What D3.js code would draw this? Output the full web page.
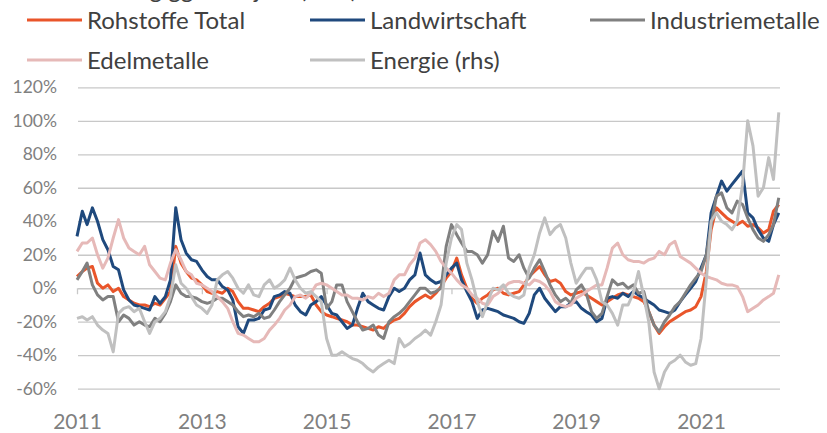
<!DOCTYPE html>
<html>
<head>
<meta charset="utf-8">
<script src="https://cdn.jsdelivr.net/npm/d3@7"></script>
<style>
  body { margin: 0; background: #fff; }
  text { font-family: Lato, "Open Sans", sans-serif; }
</style>
</head>
<body>
<script>
// monthly readings, Jan 2011 .. Apr 2022 (in %)
const months = d3.timeMonth.range(new Date(2011, 0, 1), new Date(2022, 4, 1));

const seriesNames = ['Rohstoffe Total', 'Landwirtschaft', 'Industriemetalle', 'Edelmetalle', 'Energie (rhs)'];
const yTicks = [-60, -40, -20, 0, 20, 40, 60, 80, 100, 120];
const yearTicks = [2011, 2013, 2015, 2017, 2019, 2021];

const rohstoffeTotal = [
  7, 10, 12, 13, 3, 0, 2, -2, 0, -5, -7, -9, -10, -10, -11, -9, -10, -6, -2, 25, 15, 10, 6, 5, 2, -2, -3, -2, -3, 0, -2, -8, -12, -12, -13,
  -14, -11, -9, -6, -5, -3, -4, -5, -5, -5, -4, -10, -14, -16, -17, -18, -19, -20, -22, -22, -23, -24, -25, -23, -24, -21, -19, -18, -15, -11, -8, -6, -4,
  -6, -3, 1, 6, 10, 18, 8, 0, -6, -9, -6, -4, -1, 0, -3, -4, -3, -2, 2, 7, 10, 13, 8, 4, 5, 3, -2, -4, -3, -2, -4, -6, -8, -10,
  -8, -6, -4, -3, -4, -5, -6, -8, -14, -22, -27, -23, -20, -18, -16, -14, -13, -11, -5, 10, 35, 48, 45, 42, 40, 38, 40, 37, 38, 36, 33, 35, 46, 50
];
const landwirtschaft = [
  31, 46, 38, 48, 40, 29, 23, 13, 11, -1, -7, -10, -11, -12, -13, -5, -9, -5, 5, 48, 29, 21, 17, 16, 11, 7, 5, 5, 1, -1, -7, -23, -27, -19, -19,
  -18, -13, -12, -5, -4, -2, -3, -10, -14, -16, -10, -8, -5, -10, -15, -16, -20, -24, -22, -12, -3, -8, -10, -12, -13, -5, 0, -2, 0, 5, 8, 21, 8,
  5, 3, 4, 8, 12, 15, 5, -2, -8, -18, -13, -12, -13, -14, -16, -17, -18, -20, -21, -15, -4, 0, -6, -10, -14, -11, -11, -9, -8, -12, -14, -16, -20, -18,
  -6, -5, -6, -3, -5, -2, -4, -6, -8, -10, -13, -14, -15, -13, -8, -4, 0, 4, 12, 20, 45, 55, 64, 58, 62, 66, 70, 45, 42, 35, 30, 28, 38, 45
];
const industriemetalle = [
  5, 10, 15, 2, -4, -7, -5, -5, -20, -16, -18, -22, -20, -22, -23, -18, -20, -15, -8, 2, -3, -5, -5, -6, -8, -9, -8, -6, -6, -8, -10, -14, -17, -16, -17,
  -15, -18, -17, -13, -8, -4, 0, 6, 7, 8, 10, 11, 9, -12, -8, 2, 2, -8, -14, -20, -25, -24, -22, -28, -30, -20, -17, -15, -12, -8, -4, 0, 0,
  -3, -2, 0, 25, 38, 32, 27, 22, 22, 20, 15, 20, 34, 28, 37, 18, 16, 20, 12, 6, 12, 17, 10, 2, -4, -8, -6, -9, -1, 2, -3, -14, -18, -15,
  -5, 5, 2, 3, 0, 2, -3, -2, -14, -22, -26, -20, -16, -11, -8, -3, 2, 6, 10, 20, 38, 55, 57, 48, 45, 52, 50, 42, 35, 30, 28, 32, 38, 54
];
const edelmetalle = [
  22, 27, 27, 30, 20, 12, 18, 30, 41, 30, 24, 22, 20, 25, 14, 10, 6, 5, 15, 23, 17, 10, 8, 3, 2, 0, -2, -5, -8, -12, -20, -27, -28, -30, -32,
  -32, -30, -25, -22, -18, -13, -10, -5, -4, -6, -3, 2, 3, 2, 0, -2, -4, -4, -6, -6, -7, -5, -6, -3, -5, -3, 5, 8, 8, 14, 18, 27, 29,
  26, 22, 16, 12, 9, 5, 2, 0, -4, -6, -9, -10, -5, -3, 0, 3, 4, 4, 3, 2, 5, 4, 2, -2, -8, -10, -11, -10, -6, -4, -2, 0, 2, 2,
  12, 24, 27, 20, 17, 16, 16, 15, 17, 18, 22, 20, 26, 28, 19, 17, 15, 12, 9, 7, 6, 5, 3, 2, 2, 1, -5, -14, -12, -10, -7, -5, -3, 8
];
const energie = [
  -18, -17, -19, -17, -22, -25, -27, -38, -15, -12, -11, -14, -12, -20, -27, -20, -18, -14, -5, 14, 3, 0, -5, -10, -12, -15, -10, 5, 8, 10, 6, 0, -3, 2, -4,
  -5, 2, 5, 0, 2, 5, 12, 5, 0, -3, -2, -5, -8, -30, -40, -40, -38, -40, -42, -43, -45, -48, -50, -47, -45, -43, -45, -30, -35, -33, -30, -28, -25,
  -28, -20, -10, 15, 30, 38, 35, 15, 5, -8, -17, -8, 0, -1, 2, -3, -5, -6, -4, 12, 20, 33, 42, 32, 36, 38, 30, 15, 3, 8, 12, 12, 5, -8,
  -10, -15, -22, -10, -10, -3, 10, -5, -20, -50, -60, -50, -45, -43, -40, -44, -46, -45, -30, 5, 40, 45, 40, 38, 35, 40, 62, 100, 85, 55, 60, 78, 65, 105
];

const allSeries = [rohstoffeTotal, landwirtschaft, industriemetalle, edelmetalle, energie];
const colors = ['#E9552A', '#1F497D', '#808080', '#E6B9B8', '#C0C0C0'];

const svg = d3.select('body')
  .append('svg')
  .attr('width', 827)
  .attr('height', 433);

const x = d3.scaleTime()
  .domain([new Date(2011, 0, 1), new Date(2022, 0, 1)])
  .range([77, 763.4]);

const y = d3.scaleLinear()
  .domain([-60, 120])
  .range([388.7, 87.3]);

// title, cut off at the top edge of the picture
svg.append('text')
  .attr('x', 27)
  .attr('y', -2)
  .attr('font-size', 24)
  .attr('fill', '#404040')
  .text('Veränderung ggü. Vorjahr (in %)');

// y axis with gridlines
const yAxis = svg.append('g')
  .attr('transform', 'translate(78,0)')
  .call(d3.axisLeft(y).tickValues(yTicks).tickSize(-702).tickPadding(21).tickFormat(d => d + '%'));
yAxis.select('.domain').remove();
yAxis.selectAll('line').attr('stroke', '#C8C8C8').attr('stroke-width', 1.3);
yAxis.selectAll('text').attr('fill', '#808080').attr('font-size', 17.5);

// tick marks on the zero line
svg.append('g')
  .attr('transform', `translate(0,${y(0)})`)
  .call(d3.axisBottom(x).tickValues(yearTicks.map(yr => new Date(yr, 0, 1))).tickSize(6).tickSizeOuter(0).tickFormat(''))
  .call(g => g.select('.domain').remove())
  .selectAll('line').attr('stroke', '#C8C8C8').attr('stroke-width', 1.3);

// year labels at the bottom
const xAxis = svg.append('g')
  .attr('transform', 'translate(0,429)')
  .call(d3.axisBottom(x).tickValues(yearTicks.map(yr => new Date(yr, 0, 1))).tickSize(0).tickFormat(d3.timeFormat('%Y')));
xAxis.select('.domain').remove();
xAxis.selectAll('text').attr('y', 0).attr('dy', 0).attr('fill', '#808080').attr('font-size', 21);

const line = d3.line()
  .x((d, i) => x(months[i]))
  .y(d => y(d));

svg.append('g')
  .selectAll('path')
  .data(allSeries)
  .join('path')
  .attr('d', line)
  .attr('fill', 'none')
  .attr('stroke', (d, i) => colors[i])
  .attr('stroke-width', 3)
  .attr('stroke-linejoin', 'round');

// legend
const legendCols = [27, 310, 590];
const legendRows = [20, 60];
const legend = svg.append('g')
  .selectAll('g')
  .data(seriesNames)
  .join('g')
  .attr('transform', (d, i) => `translate(${legendCols[i % 3]},${legendRows[Math.floor(i / 3)]})`);

legend.append('line')
  .attr('x1', 0)
  .attr('x2', 55)
  .attr('stroke', (d, i) => colors[i])
  .attr('stroke-width', 3);

legend.append('text')
  .attr('x', 60)
  .attr('dy', '0.36em')
  .attr('font-size', 24)
  .attr('fill', '#404040')
  .text(d => d);
</script>
</body>
</html>
